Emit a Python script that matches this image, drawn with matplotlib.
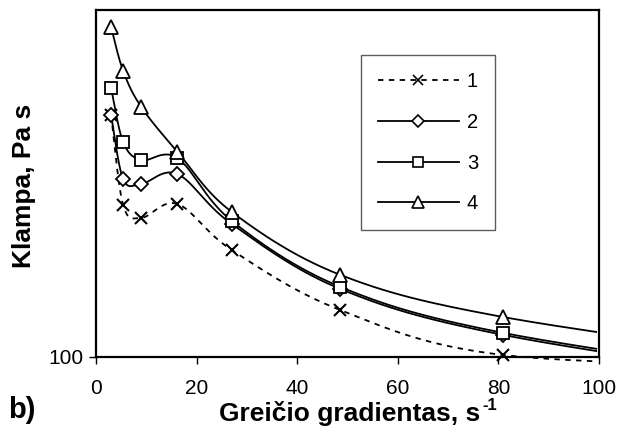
import numpy as np
import matplotlib
matplotlib.use("Agg")
import matplotlib.pyplot as plt
from matplotlib.patches import Rectangle
from matplotlib.ticker import NullLocator, FixedLocator, FixedFormatter

# ---- data ----
shear = [3, 5.4, 9, 16.2, 27, 48.6, 81, 145.8]
series1 = [263, 183.5, 174.3, 184.3, 153.3, 120.6, 100.8, 96]
series2 = [263, 203.6, 199.6, 207.7, 170.1, 131.2, 109.2, 89]
series3 = [292.9, 236.1, 219.6, 221.4, 172.2, 132.3, 110.1, 90]
series4 = [373.8, 313.5, 271.5, 226.9, 178.5, 138.8, 117.3, 97]
labels = ["1", "2", "3", "4"]
x_ticks = [0, 20, 40, 60, 80, 100]
y_ticks = [100]

plt.rcParams['font.family'] = ['Liberation Sans', 'DejaVu Sans']


def smooth(xs, ys, n=30):
    """Catmull-Rom smoothing (like Excel smoothed lines) in x / log10(y) space."""
    x = np.asarray(xs, float)
    y = np.log10(np.asarray(ys, float))
    P = np.column_stack([x, y])
    P = np.vstack([P[0], P, P[-1]])
    out = []
    t = np.linspace(0, 1, n)[:, None]
    for i in range(1, len(P) - 2):
        p0, p1, p2, p3 = P[i - 1], P[i], P[i + 1], P[i + 2]
        c1 = p1 + (p2 - p0) / 6.0
        c2 = p2 - (p3 - p1) / 6.0
        seg = ((1 - t) ** 3) * p1 + 3 * ((1 - t) ** 2) * t * c1 + 3 * (1 - t) * t ** 2 * c2 + t ** 3 * p2
        out.append(seg if i == 1 else seg[1:])
    out = np.vstack(out)
    return out[:, 0], 10 ** out[:, 1]


fig = plt.figure(figsize=(6.24, 4.41), dpi=100)
ax = fig.add_axes([96 / 624, 1 - 357 / 441, (599 - 96) / 624, (357 - 10) / 441])
ax.set_yscale('log')
ax.set_xlim(0, 100)
ax.set_ylim(100, 400)

clip = Rectangle((-0.02, -0.06), 1.016, 1.06, transform=ax.transAxes,
                 facecolor='none', edgecolor='none')
ax.add_patch(clip)

styles = [
    dict(marker='x', ls=(0, (3, 3)), ms=9, mew=1.5),
    dict(marker='D', ls='-', ms=7.5, mew=1.3),
    dict(marker='s', ls='-', ms=8.5, mew=1.3),
    dict(marker='^', ls='-', ms=10, mew=1.3),
]
all_series = [series1, series2, series3, series4]
handles = []
for ys, st, lab in zip(all_series, styles, labels):
    sx, sy = smooth(shear, ys)
    ln, = ax.plot(sx, sy, color='black', lw=1.3, ls=st['ls'])
    ln.set_clip_path(clip)
    mx = np.array(shear)
    my = np.array(ys)
    keep = mx <= 100
    ax.plot(mx[keep], my[keep], ls='none', marker=st['marker'], ms=st['ms'],
            mew=st['mew'], mec='black', mfc='white', color='black', clip_on=False, zorder=5)
    h, = ax.plot([], [], color='black', lw=1.3, ls=st['ls'], marker=st['marker'],
                 ms=st['ms'] * 0.85, mew=1.2, mec='black', mfc='white')
    handles.append(h)

leg = ax.legend(handles, labels, loc='upper left', bbox_to_anchor=(265 / 503, 1 - 45 / 347),
                frameon=True, fancybox=False, edgecolor='#333333', fontsize=14.5,
                handlelength=4.0, handletextpad=0.4, labelspacing=1.08,
                borderpad=0.85, borderaxespad=0.0)
leg.get_frame().set_linewidth(1.0)

ax.xaxis.set_major_locator(FixedLocator(x_ticks))
ax.set_xticklabels([str(v) for v in x_ticks])
ax.yaxis.set_major_locator(FixedLocator(y_ticks))
ax.yaxis.set_major_formatter(FixedFormatter([str(v) for v in y_ticks]))
ax.yaxis.set_minor_locator(NullLocator())
ax.tick_params(axis='both', direction='out', length=5, width=1, labelsize=15, colors='black')
ax.tick_params(axis='x', pad=11)
ax.tick_params(axis='y', pad=4)

for sp in ax.spines.values():
    sp.set_linewidth(1.6)
    sp.set_color('black')

# axis titles
xl = fig.text(350 / 624, 1 - 421 / 441, 'Greičio gradientas, s', fontsize=19,
              fontweight='bold', ha='center', va='baseline')
ax.annotate('-1', xy=(1, 0), xycoords=xl, xytext=(1, 9.5), textcoords='offset points',
            fontsize=12, fontweight='bold', ha='left', va='bottom')
fig.text(24 / 624, 1 - 186 / 441, 'Klampa, Pa s', fontsize=19, fontweight='bold',
         rotation=90, ha='center', va='center')
fig.text(8 / 624, 1 - 410 / 441, 'b)', fontsize=21, fontweight='bold', va='center', ha='left')

fig.savefig('out.png', dpi=100)
